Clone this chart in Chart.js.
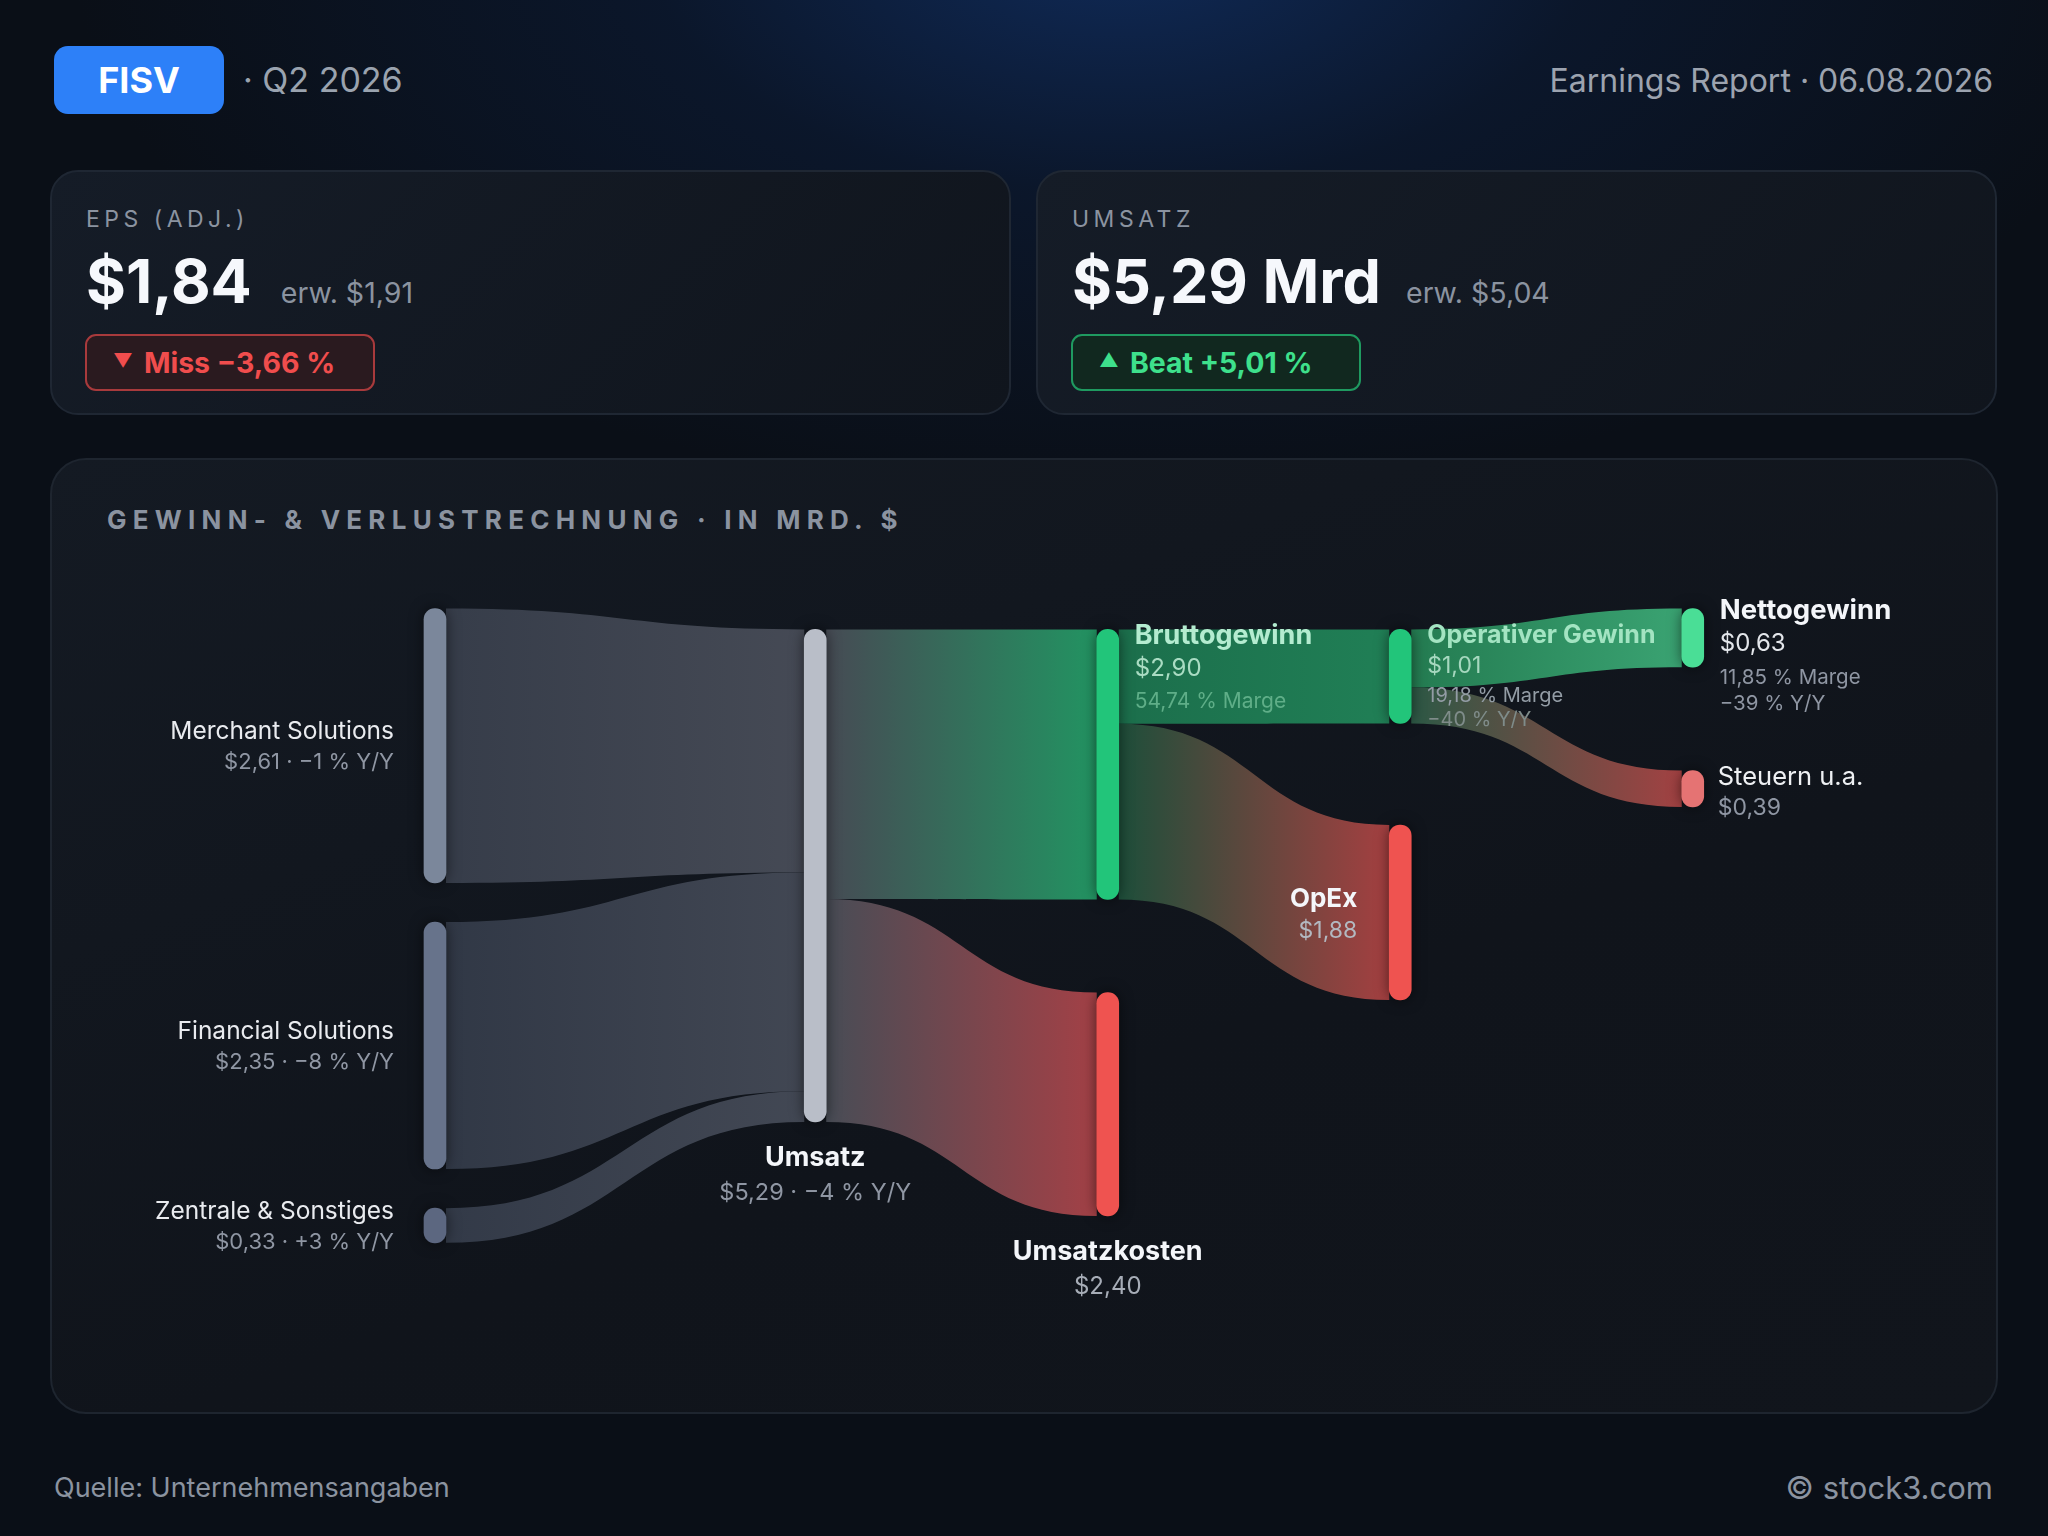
<!DOCTYPE html>
<html><head><meta charset="utf-8">
<script src="https://cdn.jsdelivr.net/npm/chart.js@4.4.1/dist/chart.umd.min.js"></script>
<style>
html,body{margin:0;padding:0;}
body{width:2048px;height:1536px;overflow:hidden;position:relative;font-family:Inter,'Noto Sans',sans-serif;
 background:radial-gradient(ellipse 1050px 560px at 1120px -60px, rgba(16,44,92,0.95) 0%, rgba(12,30,62,0.5) 45%, rgba(10,15,23,0) 100%), #0a0f17;}
.abs{position:absolute;}
.tick{left:54px;top:46px;width:170px;height:68px;background:#2d80f8;border-radius:14px;color:#fff;font-weight:700;font-size:36px;display:flex;align-items:center;justify-content:center;}
.q{left:243px;top:60px;font-size:34px;line-height:40px;color:#9aa3af;}
.er{right:55px;top:61px;font-size:32px;line-height:40px;color:#9ca3af;}
.card{top:170px;width:961px;height:245px;box-sizing:border-box;border:2px solid #1f2733;border-radius:28px;background:linear-gradient(135deg,#151c27 0%,#10151d 100%);}
.lab{left:34px;top:34px;font-size:23px;line-height:26px;letter-spacing:4.5px;color:#8b93a0;}
.val{left:34px;top:79px;display:flex;align-items:baseline;line-height:1;}
.big{font-size:61px;font-weight:700;color:#f6f8fc;}
.est{font-size:28.5px;color:#8b93a0;margin-left:29px;}
.pill{left:33px;top:162px;width:290px;height:57px;box-sizing:border-box;border-radius:11px;font-size:28.5px;font-weight:700;display:flex;align-items:center;padding-left:26px;}
.pill .tri{font-size:19px;margin-right:11px;position:relative;top:-2px;}
.miss{border:2px solid #a83a3c;background:#2a1a1f;color:#f04d4d;}
.beat{border:2px solid #1f9a60;background:#11281f;color:#3ee08c;}
.panel{left:50px;top:458px;width:1948px;height:956px;box-sizing:border-box;border:2px solid #1e252f;border-radius:36px;background:linear-gradient(160deg,#141a23 0%,#10141b 60%,#11151c 100%);}
.ptitle{left:107px;top:504px;font-size:26px;line-height:32px;font-weight:700;letter-spacing:6.25px;color:#8b93a0;}
.foot{top:1472px;font-size:27px;line-height:32px;color:#8b93a0;}
#wrap{position:absolute;left:50px;top:458px;width:1948px;height:956px;}
</style></head>
<body>
<div class="abs tick">FISV</div>
<div class="abs q">· Q2 2026</div>
<div class="abs er">Earnings Report · 06.08.2026</div>

<div class="abs card" style="left:50px;">
  <div class="abs lab">EPS (ADJ.)</div>
  <div class="abs val"><span class="big">$1,84</span><span class="est">erw. $1,91</span></div>
  <div class="abs pill miss"><span class="tri">▼</span>Miss −3,66 %</div>
</div>
<div class="abs card" style="left:1036px;">
  <div class="abs lab">UMSATZ</div>
  <div class="abs val"><span class="big">$5,29 Mrd</span><span class="est" style="margin-left:25px">erw. $5,04</span></div>
  <div class="abs pill beat"><span class="tri">▲</span>Beat +5,01 %</div>
</div>

<div class="abs panel"></div>
<div class="abs ptitle">GEWINN- &amp; VERLUSTRECHNUNG · IN MRD. $</div>
<div id="wrap"><canvas id="c"></canvas></div>

<div class="abs foot" style="left:54px;">Quelle: Unternehmensangaben</div>
<div class="abs foot" style="right:55px;font-size:31px;">© stock3.com</div>

<script>
// ---- data ----
const nodeNames = ['Merchant Solutions','Financial Solutions','Zentrale & Sonstiges','Umsatz','Bruttogewinn','Umsatzkosten','Operativer Gewinn','OpEx','Nettogewinn','Steuern u.a.'];
const nodeValues = [2.61, 2.35, 0.33, 5.29, 2.90, 2.40, 1.01, 1.88, 0.63, 0.39];
const nodeColumns = [0, 0, 0, 1, 2, 2, 3, 3, 4, 4];
const yoyText = ['−1 %', '−8 %', '+3 %', '−4 %', null, null, '−40 %', null, '−39 %', null];
const marginText = [null, null, null, null, '54,74 %', null, '19,18 %', null, '11,85 %', null];
const flowFrom = [0, 1, 2, 3, 3, 4, 4, 6, 6];
const flowTo = [3, 3, 3, 4, 5, 6, 7, 8, 9];
const flowValues = [2.61, 2.35, 0.33, 2.90, 2.40, 1.01, 1.88, 0.63, 0.39];

// ---- layout / style ----
const colX = [0, 1.3, 2.3, 3.3, 4.3];
const colStart = [0, 0.224, 0.224, 0.224, 0];
const colGap = [0.42, 0, 1.0, 1.09, 1.11];
const colScale = [1.129, 1, 1, 1, 1];
const nodeColors = ['#7b879b','#67738b','#5c6780','#b9bec8','#22c57a','#ef5350','#22c57a','#ef5350','#4ade96','#e57373'];
const flowColors = [
 ['#3a414e','#4a4f5a'],['#343c4a','#464c58'],['#363e4c','#474d59'],
 ['#4b5059','#249f68'],['#4d525b','#b0454a'],
 ['#1d7750','#22895b'],['#1f543d','#b24444'],
 ['#268556','#3eb07a'],['#2f5f49','#b04646']
];
const labelPlace = ['left','left','left','below','rightTop','below','rightTop','leftMid','rightTop','rightMid'];

const fmt = v => '$' + v.toFixed(2).replace('.', ',');

// node vertical extents (value units)
const ptr = colStart.slice();
const started = [false,false,false,false,false];
const nodeY = nodeValues.map((v, i) => {
  const c = nodeColumns[i];
  if (started[c]) ptr[c] += colGap[c];
  started[c] = true;
  const y0 = ptr[c];
  const y1 = y0 + v * colScale[c];
  ptr[c] = y1;
  return [y0, y1];
});
const nodeData = nodeValues.map((v, i) => ({x: colX[nodeColumns[i]], y: nodeY[i]}));

const HALF = 11;
function nodePx(chart, i) {
  const xs = chart.scales.x, ys = chart.scales.y;
  return {cx: xs.getPixelForValue(colX[nodeColumns[i]]), top: ys.getPixelForValue(nodeY[i][0]), bot: ys.getPixelForValue(nodeY[i][1])};
}

const flowPlugin = {
  id: 'flows',
  beforeDatasetsDraw(chart) {
    const ctx = chart.ctx;
    const outSum = {}, inSum = {};
    flowValues.forEach((v, k) => { outSum[flowFrom[k]] = (outSum[flowFrom[k]] || 0) + v; inSum[flowTo[k]] = (inSum[flowTo[k]] || 0) + v; });
    const outCum = {}, inCum = {};
    flowValues.forEach((v, k) => {
      const s = flowFrom[k], t = flowTo[k];
      const S = nodePx(chart, s), T = nodePx(chart, t);
      const sh = S.bot - S.top, th = T.bot - T.top;
      const so = outCum[s] || 0, to = inCum[t] || 0;
      const sy0 = S.top + sh * so / outSum[s], sy1 = S.top + sh * (so + v) / outSum[s];
      const ty0 = T.top + th * to / inSum[t], ty1 = T.top + th * (to + v) / inSum[t];
      outCum[s] = so + v; inCum[t] = to + v;
      const x0 = S.cx + HALF, x1 = T.cx - HALF, xm = (x0 + x1) / 2;
      const g = ctx.createLinearGradient(x0, 0, x1, 0);
      g.addColorStop(0, flowColors[k][0]);
      g.addColorStop(1, flowColors[k][1]);
      ctx.save();
      ctx.globalAlpha = 0.92;
      ctx.beginPath();
      ctx.moveTo(x0, sy0);
      ctx.bezierCurveTo(xm, sy0, xm, ty0, x1, ty0);
      ctx.lineTo(x1, ty1);
      ctx.bezierCurveTo(xm, ty1, xm, sy1, x0, sy1);
      ctx.closePath();
      ctx.fillStyle = g;
      ctx.fill();
      ctx.restore();
    });
  },
  beforeDatasetDraw(chart) {
    const ctx = chart.ctx;
    ctx.save();
    ctx.shadowColor = 'rgba(0,0,0,0.55)';
    ctx.shadowBlur = 14;
  },
  afterDatasetDraw(chart) { chart.ctx.restore(); }
};

function linesFor(i) {
  const v = nodeValues[i];
  const L = [];
  const name = nodeNames[i];
  const col = nodeColumns[i];
  if (col === 0) {
    L.push({t: name, f: '400 24.5px Inter', c: '#e9ebef'});
    L.push({t: fmt(v) + ' · ' + yoyText[i] + ' Y/Y', f: '400 22px Inter', c: '#8f96a3'});
  } else if (i === 3) {
    L.push({t: name, f: '700 27px Inter', c: '#f4f6fa'});
    L.push({t: fmt(v) + ' · ' + yoyText[i] + ' Y/Y', f: '400 23.5px Inter', c: '#8f96a3'});
  } else if (i === 4) {
    L.push({t: name, f: '700 27px Inter', c: '#b4ecd0'});
    L.push({t: fmt(v), f: '400 24px Inter', c: '#aadcc3'});
    L.push({t: marginText[i] + ' Marge', f: '400 21px Inter', c: '#5fae88'});
  } else if (i === 6) {
    L.push({t: name, f: '700 25px Inter', c: '#a3e4c2'});
    L.push({t: fmt(v), f: '400 23px Inter', c: '#a6d8bf'});
    L.push({t: marginText[i] + ' Marge', f: '400 20px Inter', c: '#939ca5'});
    L.push({t: yoyText[i] + ' Y/Y', f: '400 20px Inter', c: '#7f8c8a'});
  } else if (i === 8) {
    L.push({t: name, f: '700 27.5px Inter', c: '#f4f6fa'});
    L.push({t: fmt(v), f: '400 24px Inter', c: '#e3e6ea'});
    L.push({t: marginText[i] + ' Marge', f: '400 20.5px Inter', c: '#8f96a3'});
    L.push({t: yoyText[i] + ' Y/Y', f: '400 20.5px Inter', c: '#8f96a3'});
  } else if (i === 9) {
    L.push({t: name, f: '400 25.5px Inter', c: '#eef0f3'});
    L.push({t: fmt(v), f: '400 23px Inter', c: '#8f96a3'});
  } else if (i === 7) {
    L.push({t: name, f: '700 26px Inter', c: '#f4f6fa'});
    L.push({t: fmt(v), f: '400 23px Inter', c: '#b3b8c0'});
  } else {
    L.push({t: name, f: '700 27px Inter', c: '#f4f6fa'});
    L.push({t: fmt(v), f: '400 24px Inter', c: '#a7adb7'});
  }
  return L;
}

const labelPlugin = {
  id: 'labels',
  afterDatasetsDraw(chart) {
    const ctx = chart.ctx;
    ctx.save();
    ctx.textBaseline = 'middle';
    nodeNames.forEach((n, i) => {
      const P = nodePx(chart, i);
      const mid = (P.top + P.bot) / 2;
      const L = linesFor(i);
      let x, ys, align;
      switch (labelPlace[i]) {
        case 'left': x = P.cx - HALF - 30; align = 'right'; ys = [mid - 14, mid + 17]; break;
        case 'below': x = P.cx; align = 'center'; ys = [P.bot + 36, P.bot + 71]; break;
        case 'rightTop': x = P.cx + HALF + 16; align = 'left';
          ys = i === 8 ? [P.top + 2, P.top + 35, P.top + 69, P.top + 95] : (i === 4 ? [P.top + 6, P.top + 39, P.top + 72] : [P.top + 6, P.top + 37, P.top + 67, P.top + 91]); break;
        case 'leftMid': x = P.cx - HALF - 32; align = 'right'; ys = [mid - 13, mid + 19]; break;
        case 'rightMid': x = P.cx + HALF + 14; align = 'left'; ys = [mid - 11, mid + 19]; break;
      }
      ctx.textAlign = align;
      L.forEach((ln, k) => { ctx.font = ln.f; ctx.fillStyle = ln.c; ctx.fillText(ln.t, x, ys[k]); });
    });
    ctx.restore();
  }
};

new Chart(document.getElementById('c'), {
  type: 'bar',
  data: { datasets: [{ data: nodeData, backgroundColor: nodeColors, borderRadius: 11, borderSkipped: false, barThickness: 22 }] },
  options: {
    responsive: true, maintainAspectRatio: false, animation: false, events: [],
    layout: { padding: 0 },
    plugins: { legend: { display: false }, tooltip: { enabled: false } },
    scales: {
      x: { type: 'linear', min: -1.3162, max: 5.3436, offset: false, display: false },
      y: { type: 'linear', min: -1.6176, max: 8.651, reverse: true, display: false }
    }
  },
  plugins: [flowPlugin, labelPlugin]
});
</script>
</body></html>
